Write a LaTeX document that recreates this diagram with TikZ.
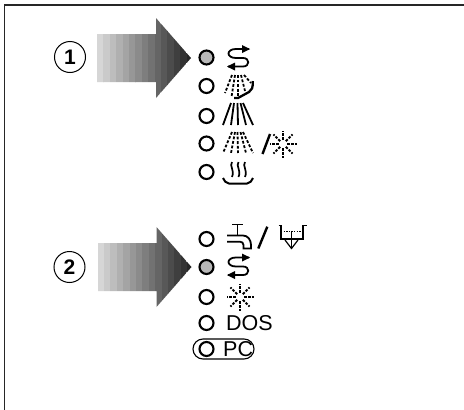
\documentclass[tikz,border=0pt]{standalone}
\usepackage{fontspec}
\setmainfont{Liberation Sans}
\usetikzlibrary{arrows.meta}
\definecolor{ledgray}{gray}{0.72}
\tikzset{
  x=1pt,y=-1pt,
  led/.style={circle,draw=black,line width=2.1pt,minimum size=14pt,inner sep=0pt},
  ledon/.style={led,fill=ledgray},
  sym/.style={line width=1.8pt,line cap=butt,black},
  thin sym/.style={line width=1.2pt,black},
  spraydash/.style={line width=1.8pt,dash pattern=on 2.8pt off 1.8pt,black},
  numcirc/.style={circle,draw=black,line width=1pt,minimum size=31pt,inner sep=0pt,font=\fontsize{21}{21}\selectfont\bfseries},
  label text/.style={inner sep=0pt,anchor=west,font=\fontsize{21.5}{21.5}\selectfont},
  pics/loopsym/.style={code={
    \draw[sym] (11,-8.5) -- (-2,-8.5) .. controls (-12,-8.5) and (-12,0.5) .. (-2,0.5)
      -- (5,0.5) .. controls (12,0.5) and (12,9) .. (5,9) -- (-10,9);
    \fill (12,-8.5) -- (4,-12.5) -- (4,-4.5) -- cycle;
    \fill (-11,9) -- (-3,5) -- (-3,13) -- cycle;
  }},
  pics/starsym/.style={code={
    \foreach \a in {0,45,...,315}{
      \draw[line width=1.8pt,dash pattern=on 2.6pt off 1.4pt,black] (\a:4) -- (\a:13.5);
    }
  }},
  pics/bigarrow/.style={code={
    \begin{scope}
      \clip (0,-24) -- (59,-24) -- (59,-40) -- (94,0) -- (59,40) -- (59,24) -- (0,24) -- cycle;
      \foreach \i in {0,...,14}{
        \pgfmathsetmacro{\g}{0.84-0.69*\i/14}
        \definecolor{bandc}{gray}{\g}
        \fill[bandc] (\i*6.4,-41) rectangle (\i*6.4+6.5,41);
      }
    \end{scope}
  }}
}
\begin{document}
\begin{tikzpicture}
\useasboundingbox (0,0) rectangle (464,410);
\fill[white] (0,0) rectangle (464,410);
% frame
\draw[line width=1.5pt,black!85] (4.5,410) -- (4.5,5) -- (464,5);
% arrows
\pic at (97,58) {bigarrow};
\pic at (97.5,267) {bigarrow};
% number circles
\node[numcirc] (n1) at (70,57) {1};
\node[numcirc] (n2) at (69.5,267) {2};
% LEDs first group
\node[ledon] (a1) at (206.5,57.5) {};
\node[led] (a2) at (206.5,86) {};
\node[led] (a3) at (206.5,116) {};
\node[led] (a4) at (206.5,143.5) {};
\node[led] (a5) at (206.5,172) {};
% LEDs second group
\node[led] (b1) at (206.5,239) {};
\node[ledon] (b2) at (206.5,267) {};
\node[led] (b3) at (206.5,297) {};
\node[led] (b4) at (206.5,323) {};
\node[led] (b5) at (206.5,349) {};
% loop symbols
\pic at (238,57.5) {loopsym};
\pic at (238,266) {loopsym};
% hand shower
\foreach \xa/\xb/\ya/\yb in {232/225/75/93, 235/231.5/75/97, 238/238/75/97, 241/245/75/91, 244/251/75/83}{
  \draw[spraydash] (\xa,\ya) -- (\xb,\yb);
}
\draw[line width=2.3pt,black] (252.7,81) .. controls (253,88) and (252,90) .. (249,92) -- (238,98) -- (234,98);
% solid shower
\foreach \xa/\xb in {231/223, 234/231, 237.5/238, 240.5/246, 243/253}{
  \draw[line width=1.8pt,black] (\xa,103) -- (\xb,125);
}
% dashed shower
\foreach \xa/\xb in {232/223, 235/231, 237.5/238, 240.5/246, 243/253}{
  \draw[spraydash] (\xa,132) -- (\xb,153);
}
% slash and star
\draw[line width=2.4pt,black] (262.5,154) -- (270,134);
\pic at (283,144) {starsym};
% steam
\foreach \x in {232,238.5,245}{
  \draw[line width=1.7pt,black] (\x,162) .. controls (\x-3,166) and (\x+3,170) .. (\x,177);
}
\draw[line width=2pt,black] (223,178) .. controls (224,181) and (226,183) .. (229,183.5)
  -- (247,183.5) .. controls (250,183) and (252,181) .. (253,178);
% tap
\draw[sym] (232,224.5) -- (243,224.5) (237.5,224.5) -- (237.5,235.5);
\draw[sym] (227,235.5) -- (243,235.5) .. controls (248,235.5) and (251,240) .. (251,245)
  -- (251,248.5) -- (243.5,248.5) -- (243.5,245) .. controls (243.5,243) and (242,241.7) .. (240,241.7)
  -- (227,241.7);
% slash
\draw[line width=2.4pt,black] (258.3,248.5) -- (267.3,226.7);
% basin
\draw[thin sym] (278.5,225.7) -- (281,225.7) -- (281,239) -- (303,239) -- (303,225.7) -- (306.7,225.7);
\draw[line width=1pt,dash pattern=on 1.4pt off 1.2pt,black] (281,231.5) -- (303,231.5);
\draw[thin sym] (291.5,231.5) -- (291.5,247);
\draw[thin sym] (285,240) -- (291.5,248.5) -- (298,240);
% star
\pic at (240,297) {starsym};
% text
\node[label text] (dos) at (226,323) {DOS};
\node[label text] (pc) at (223,349) {PC};
\node[draw=black,line width=1.1pt,rounded corners=10pt,minimum width=61pt,minimum height=20pt,inner sep=0pt] (pcframe) at (223.5,349) {};
\end{tikzpicture}
\end{document}
